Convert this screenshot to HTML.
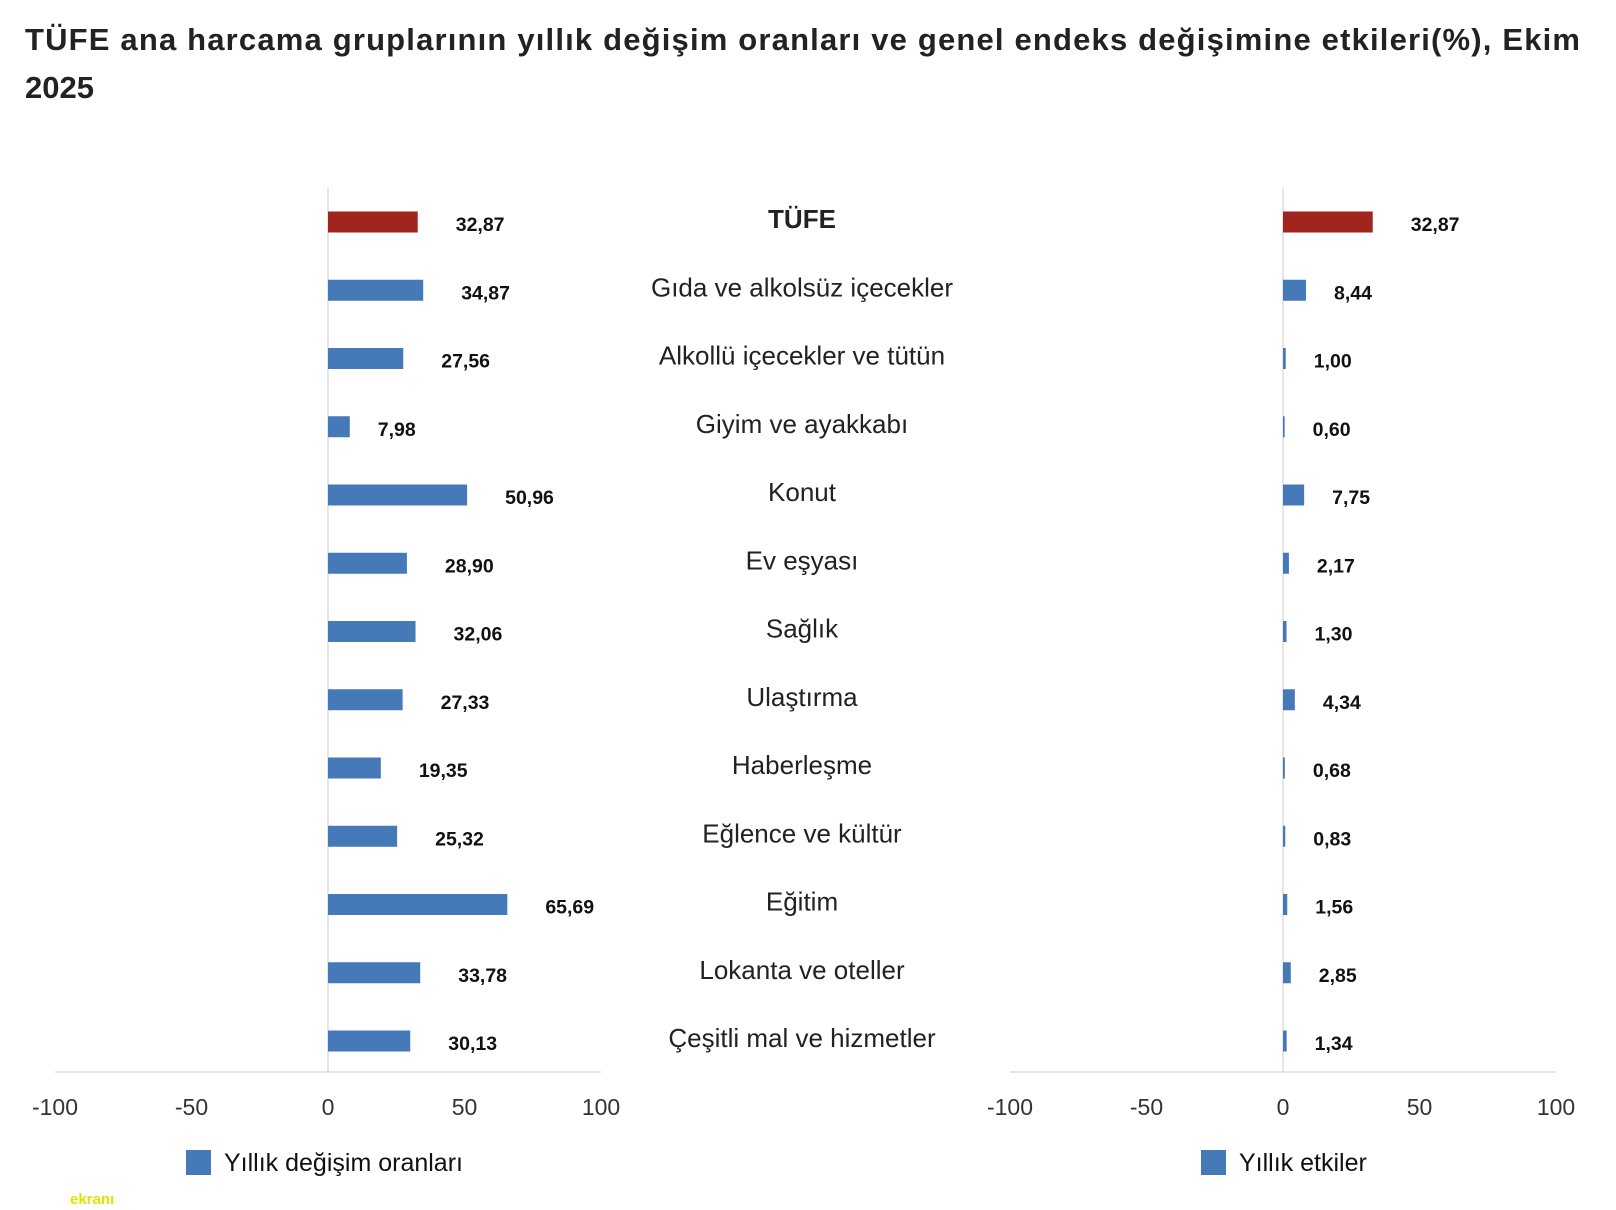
<!DOCTYPE html>
<html><head><meta charset="utf-8">
<style>
html,body{margin:0;padding:0;background:#fff;}
svg{display:block;font-family:"Liberation Sans","DejaVu Sans",sans-serif;}
</style></head>
<body>
<svg id="c" width="1616" height="1210" xmlns="http://www.w3.org/2000/svg">
<text x="25" y="50" font-size="31" font-weight="bold" fill="#222" textLength="1555" lengthAdjust="spacing">TÜFE ana harcama gruplarının yıllık değişim oranları ve genel endeks değişimine etkileri(%), Ekim</text>
<text x="25" y="98" font-size="31" font-weight="bold" fill="#222">2025</text>
<g id="g"></g>
<g>
<rect x="186" y="1150" width="25" height="25" fill="#4579b8"/>
<text x="224" y="1171" font-size="25" fill="#111">Yıllık değişim oranları</text>
</g>
<g>
<rect x="1201" y="1150" width="25" height="25" fill="#4579b8"/>
<text x="1239" y="1171" font-size="25" fill="#111">Yıllık etkiler</text>
</g>
<text x="70" y="1204" font-size="15" font-weight="bold" fill="#e8e000">ekranı</text>
</svg>
<script>
const categories=["TÜFE","Gıda ve alkolsüz içecekler","Alkollü içecekler ve tütün","Giyim ve ayakkabı","Konut","Ev eşyası","Sağlık","Ulaştırma","Haberleşme","Eğlence ve kültür","Eğitim","Lokanta ve oteller","Çeşitli mal ve hizmetler"];
const changeValues=[32.87,34.87,27.56,7.98,50.96,28.90,32.06,27.33,19.35,25.32,65.69,33.78,30.13];
const effectValues=[32.87,8.44,1.00,0.60,7.75,2.17,1.30,4.34,0.68,0.83,1.56,2.85,1.34];
const tickLabels=[-100,-50,0,50,100];

const NS="http://www.w3.org/2000/svg";
const g=document.getElementById('g');
function mk(t,a,p){const e=document.createElementNS(NS,t);for(const k in a)e.setAttribute(k,a[k]);(p||g).appendChild(e);return e;}
const rowY=i=>222+i*68.25;
function panel(x0,x100,values,prefix){
  const sx=v=>x0+(v/100)*(x100-x0);
  const xm=sx(-100);
  const axis=mk('line',{x1:x0,x2:x0,y1:188,y2:1072,stroke:'#ddd','stroke-width':1.5});
  
  
  const base=mk('line',{x1:xm,x2:x100,y1:1072,y2:1072,stroke:'#ddd','stroke-width':1.5});
  
  
  tickLabels.forEach(t=>{
    const tx=mk('text',{x:sx(t),y:1115,'font-size':23,'text-anchor':'middle',fill:'#333'});
    tx.textContent=String(t);
    
    
  });
  values.forEach((v,i)=>{
    const y=rowY(i);
    const r=mk('rect',{x:Math.min(sx(0),sx(v)),y:y-10.5,width:Math.abs(sx(v)-sx(0)),height:21,fill:i===0?'#a0261d':'#4579b8'});
    
    
    const l=mk('text',{x:sx(v)+(i===0||v>15?38:28),y:y+9,'font-size':19.5,'font-weight':'bold',fill:'#111'});
    l.textContent=v.toFixed(2).replace('.',',');
    
    
  });
}
panel(328,601,changeValues,'change');
panel(1283,1556,effectValues,'effect');
categories.forEach((c,i)=>{
  const t=mk('text',{x:802,y:rowY(i)+6,'font-size':26,'text-anchor':'middle',fill:'#222','font-weight':i===0?'bold':'normal'});
  t.textContent=c;
  
  
});
</script>
</body></html>
